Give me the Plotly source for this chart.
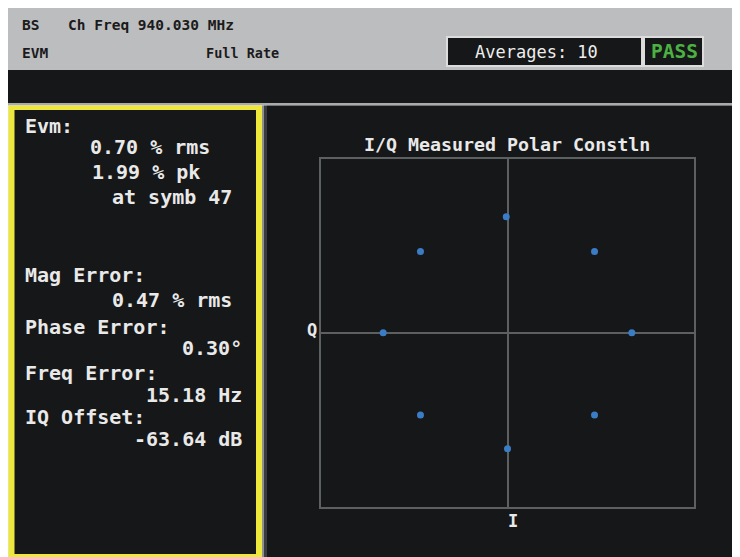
import plotly.graph_objects as go

W, H = 740, 557

# ---- data ----
i_vals = [1.00, 0.70, -0.01, -0.70, -1.00, -0.70, 0.00, 0.70]
q_vals = [0.00, 0.70, 1.00, 0.70, 0.00, -0.71, -1.00, -0.71]

header_left = ["BS", "Ch Freq 940.030 MHz", "EVM", "Full Rate"]
averages_text = "Averages: 10"
status_text = "PASS"

metric_labels = ["Evm:", "Mag Error:", "Phase Error:", "Freq Error:", "IQ Offset:"]
metric_values = ["0.70 % rms", "1.99 % pk", "at symb 47", "0.47 % rms",
                 "0.30°", "15.18 Hz", "-63.64 dB"]

chart_title = "I/Q Measured Polar Constln"
x_label = "I"
y_label = "Q"

DARK = "#161718"
MONO = "DejaVu Sans Mono"
OFF_X, OFF_Y = 8, 8   # page body margin


def px(x):
    return (x - OFF_X) / W


def py(y):
    return 1 - (y - OFF_Y) / H


shapes = []


def rect(x0, y0, x1, y1, fill, line=None, lw=0):
    shapes.append(dict(type="rect", xref="paper", yref="paper",
                       x0=px(x0), x1=px(x1), y0=py(y1), y1=py(y0),
                       fillcolor=fill, layer="below",
                       line=dict(color=line or fill, width=lw)))


# header + bars
rect(7, 8, 760, 70, "#bcbdbf")
rect(7, 70, 760, 103, DARK)
rect(7, 103, 760, 105.5, "#a9abad")
# left panel
rect(7, 105.5, 8.5, 580, "#c4c5c7")
rect(8.5, 105.5, 262, 580, "#efe83c")
rect(14.5, 110, 256, 554, DARK)
# separator and right panel
rect(262, 105.5, 264, 580, "#8e9092")
rect(264, 105.5, 267, 580, "#3a3c40")
rect(267, 105.5, 760, 580, DARK)
# averages / pass boxes
rect(447, 37, 642, 66, DARK, "#dcdcdc", 2)
rect(644, 37, 703, 66, DARK, "#dcdcdc", 2)

ann = []


def text(x, y, s, size, color, anchor="left", bold=True, family=MONO):
    ann.append(dict(xref="paper", yref="paper", x=px(x), y=py(y), text=s,
                    showarrow=False, xanchor=anchor, yanchor="middle",
                    font=dict(family=family, size=size, color=color,
                              weight="bold" if bold else "normal")))


HC = "#1b1b1b"
text(20, 25, header_left[0], 14.5, HC)
text(66, 25, header_left[1], 14.5, HC)
text(20, 53, header_left[2], 14.5, HC)
text(281, 53, header_left[3], 13.5, HC, anchor="right")
text(473, 52, averages_text, 17, "#eeeeee", bold=False)
text(700, 52, status_text, 19.5, "#4cb043", anchor="right")

TC = "#e9e9e9"
FS = 20
# left-panel labels
for lab, yy in zip(metric_labels, [126, 275, 327, 373, 417]):
    text(23, yy, lab, FS, TC)
# left-panel values (right edges)
val_pos = [(212, 147), (202, 172), (234, 197), (234, 300),
           (244, 348), (244, 395), (244, 439)]
for v, (xx, yy) in zip(metric_values, val_pos):
    text(xx, yy, v, FS, TC, anchor="right")

# chart labels
text(507, 144, chart_title, 18.3, TC, anchor="center")
text(312, 330, y_label, 17, TC, anchor="center")
text(513, 521, x_label, 17, TC, anchor="center")

fig = go.Figure()
fig.add_trace(go.Scatter(x=i_vals, y=q_vals, mode="markers",
                         marker=dict(color="#3a7dc6", size=7),
                         hoverinfo="skip", showlegend=False))

GRID = "#5c6061"
axis_common = dict(range=[-1.5, 1.5], showgrid=False, zeroline=True,
                   zerolinecolor=GRID, zerolinewidth=2, showline=True,
                   linecolor=GRID, linewidth=2, mirror=True,
                   showticklabels=False, ticks="", fixedrange=True)

fig.update_layout(
    width=W, height=H,
    margin=dict(l=0, r=0, t=0, b=0),
    paper_bgcolor="white",
    plot_bgcolor=DARK,
    xaxis=dict(domain=[px(321), px(694)], **axis_common),
    yaxis=dict(domain=[py(506.7), py(158.7)], **axis_common),
    shapes=shapes,
    annotations=ann,
    showlegend=False,
)

fig.write_html("out.html")
